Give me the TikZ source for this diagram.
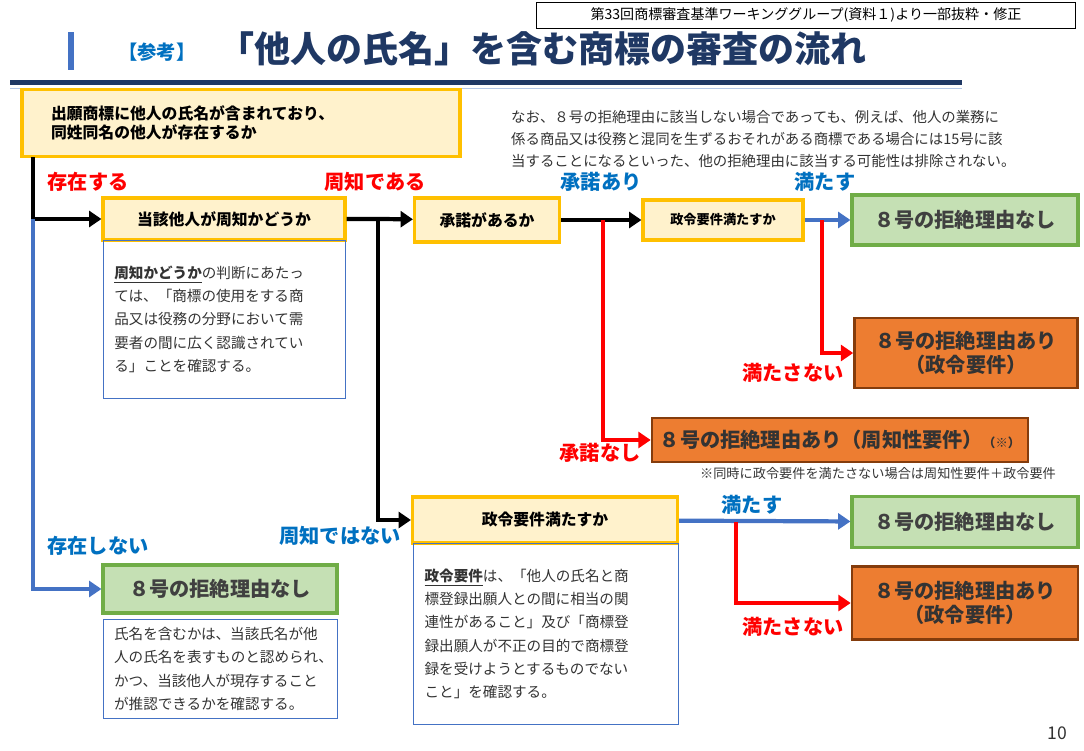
\documentclass[tikz,border=0pt]{standalone}
\usepackage{fontspec}
\setmainfont{Noto Sans CJK JP}
\usetikzlibrary{positioning,calc,arrows.meta}
\definecolor{askfill}{HTML}{FFF2CC}
\definecolor{askdraw}{HTML}{FFC000}
\definecolor{okfill}{HTML}{C5E0B4}
\definecolor{okdraw}{HTML}{70AD47}
\definecolor{ngfill}{HTML}{ED7D31}
\definecolor{ngdraw}{HTML}{843C0C}
\definecolor{flowblue}{HTML}{4472C4}
\definecolor{navy}{HTML}{1F3864}
\definecolor{labblue}{HTML}{0070C0}
\begin{document}
\begin{tikzpicture}[
    x=0.02cm, y=-0.02cm,
    question/.style={draw=askdraw, fill=askfill, line width=1.8pt, font=\bfseries\fontsize{9}{11}\selectfont, inner sep=0pt},
    okbox/.style={draw=okdraw, fill=okfill, line width=1.8pt, font=\bfseries\fontsize{11.5}{14}\selectfont, text=black!75, inner sep=0pt},
    ngbox/.style={draw=ngdraw, fill=ngfill, line width=1.5pt, font=\bfseries\fontsize{11.5}{14}\selectfont, text=black!80, align=center, inner sep=0pt},
    desc/.style={draw=flowblue, thin, align=left, anchor=north west, font=\fontsize{8.3}{13.3}\selectfont, text=black!80, inner xsep=5pt, inner ysep=4pt},
    yes/.style={text=red, font=\bfseries\fontsize{11.5}{13}\selectfont},
    no/.style={text=labblue, font=\bfseries\fontsize{11.5}{13}\selectfont},
    black flow/.style={line width=2.4pt, -{Triangle[length=7pt,width=9pt]}},
    red flow/.style={line width=2.4pt, red, -{Triangle[length=7pt,width=9pt]}},
    blue flow/.style={line width=2.4pt, flowblue, -{Triangle[length=7pt,width=9pt]}},
]
\useasboundingbox (0,0) rectangle (1084,750);

% title
\node[draw, thin, font=\fontsize{8}{10}\selectfont, minimum width=10.78cm, minimum height=0.52cm, inner sep=0pt] (source) at (806,15) {第33回商標審査基準ワーキンググループ(資料１)より一部抜粋・修正};
\fill[flowblue] (68,32) rectangle (74,70);
\node[text=labblue, font=\bfseries\fontsize{11}{13}\selectfont, anchor=west] (ref) at (112,52) {【参考】};
\node[text=navy, font=\bfseries\fontsize{20.5}{24}\selectfont, anchor=west] (title) at (212,49) {「他人の氏名」を含む商標の審査の流れ};
\fill[navy] (10,80) rectangle (962,85);
\draw[flowblue!40] (10,88) -- (962,88);

% nodes
\node[question, minimum width=8.76cm, minimum height=1.34cm, align=left, text width=7.6cm, xshift=0.2cm] (start) at (231,123) {出願商標に他人の氏名が含まれており、\\同姓同名の他人が存在するか};
\node[font=\fontsize{8.2}{12.5}\selectfont, text=black!80, align=left, anchor=north west] (note) at (505,104) {なお、８号の拒絶理由に該当しない場合であっても、例えば、他人の業務に\\係る商品又は役務と混同を生ずるおそれがある商標である場合には15号に該\\当することになるといった、他の拒絶理由に該当する可能性は排除されない。};

\node[question, minimum width=4.84cm, minimum height=0.84cm] (famous) at (224,219) {当該他人が周知かどうか};
\node[desc, text width=4.4cm, minimum width=4.84cm, minimum height=3.16cm] (famousdesc) at (103,240) {\underline{\textbf{周知かどうか}}の判断にあたっ\\ては、「商標の使用をする商\\品又は役務の分野において需\\要者の間に広く認識されてい\\る」ことを確認する。};

\node[question, minimum width=2.9cm, minimum height=0.88cm] (consent) at (487,220) {承諾があるか};
\node[question, minimum width=3.2cm, minimum height=0.8cm, font=\bfseries\fontsize{7.5}{9}\selectfont] (order1) at (723,220) {政令要件満たすか};
\node[okbox, minimum width=4.52cm, minimum height=1.0cm] (none1) at (965,220) {８号の拒絶理由なし};
\node[ngbox, minimum width=4.46cm, minimum height=1.4cm] (ng1) at (966,353) {８号の拒絶理由あり\\（政令要件）};
\node[ngbox, minimum width=7.52cm, minimum height=0.88cm] (ng2) at (840,440) {８号の拒絶理由あり（周知性要件）{\fontsize{7}{8}\selectfont（※）}};
\node[font=\fontsize{7.5}{9}\selectfont, text=black!80] (ngnote) at (878,474) {※同時に政令要件を満たさない場合は周知性要件＋政令要件};

\node[question, minimum width=5.3cm, minimum height=0.92cm] (order2) at (545,520) {政令要件満たすか};
\node[desc, text width=4.85cm, minimum width=5.3cm, minimum height=3.62cm] (orderdesc) at (413,543) {\underline{\textbf{政令要件}}は、「他人の氏名と商\\標登録出願人との間に相当の関\\連性があること」及び「商標登\\録出願人が不正の目的で商標登\\録を受けようとするものでない\\こと」を確認する。};
\node[okbox, minimum width=4.52cm, minimum height=1.02cm] (none2) at (965,522) {８号の拒絶理由なし};
\node[ngbox, minimum width=4.52cm, minimum height=1.46cm] (ng3) at (965,603) {８号の拒絶理由あり\\（政令要件）};

\node[okbox, minimum width=4.68cm, minimum height=0.96cm] (none3) at (220,589) {８号の拒絶理由なし};
\node[desc, text width=4.25cm, minimum width=4.68cm, minimum height=1.98cm] (namedesc) at (103,619) {氏名を含むかは、当該氏名が他\\人の氏名を表すものと認められ、\\かつ、当該他人が現存すること\\が推認できるかを確認する。};

% corners
\coordinate (split1) at (33,219);
\coordinate (split2) at (378,219);
\coordinate (split3) at (603,220);
\coordinate (split4) at (822,220);
\coordinate (split5) at (736,522);

% connectors
\draw[line width=2.4pt] (33,157) -- (split1);
\draw[black flow] (split1) -- (famous);
\draw[blue flow] (split1) |- (none3);
\draw[black flow] (famous) -- (split2) -- (consent);
\draw[black flow] (split2) |- (order2);
\draw[black flow] (consent) -- (order1);
\draw[red flow] (split3) |- (ng2);
\draw[blue flow] (order1) -- (none1);
\draw[red flow] (split4) |- (ng1);
\draw[blue flow] (order2) -- (none2);
\draw[red flow] (split5) |- (ng3);

% labels
\node[yes] (l1) at (88,182) {存在する};
\node[no] (l2) at (98,546) {存在しない};
\node[yes] (l3) at (375,182) {周知である};
\node[no] (l4) at (340,536) {周知ではない};
\node[no] (l5) at (601,182) {承諾あり};
\node[yes] (l6) at (600,453) {承諾なし};
\node[no] (l7) at (825,182) {満たす};
\node[yes] (l8) at (793,373) {満たさない};
\node[no] (l9) at (752,505) {満たす};
\node[yes] (l10) at (793,627) {満たさない};

\node[font=\fontsize{10}{12}\selectfont, text=black!80] (page) at (1057,733) {10};
\end{tikzpicture}
\end{document}
